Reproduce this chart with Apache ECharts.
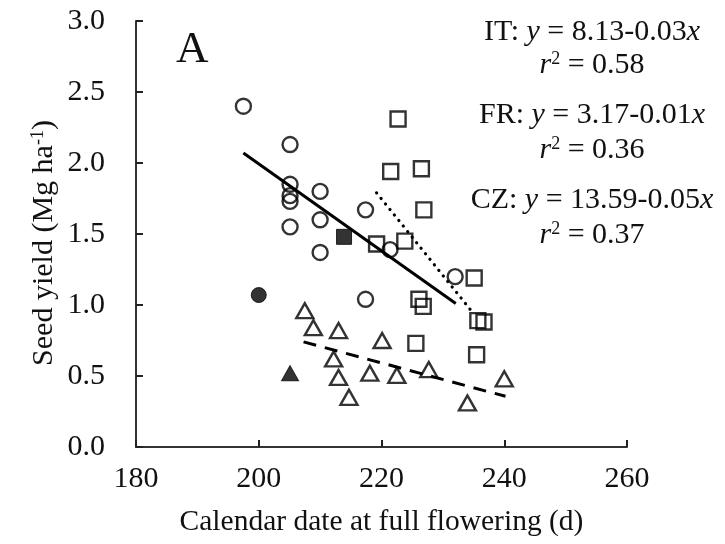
<!DOCTYPE html>
<html>
<head>
<meta charset="utf-8">
<script src="https://cdn.jsdelivr.net/npm/echarts@6/dist/echarts.min.js"></script>
<style>
html,body{margin:0;padding:0;background:#fff;}
#chart{width:725px;height:544px;}
</style>
</head>
<body>
<div id="chart"></div>
<script>
// ---- data ----
var xTicks = [180, 200, 220, 240, 260];
var yTicks = [0.0, 0.5, 1.0, 1.5, 2.0, 2.5, 3.0];

var itOpen = [[197.5,2.40],[205.1,2.13],[205.1,1.85],[205.1,1.77],[205.1,1.73],[205.1,1.55],
              [210.0,1.80],[210.0,1.60],[210.0,1.37],[217.4,1.67],[221.4,1.39],[232.0,1.20],[217.4,1.04]];
var itFilled = [[200.0,1.07]];
var frOpen = [[222.7,2.31],[221.5,1.94],[226.5,1.96],[226.9,1.67],[219.2,1.43],[223.8,1.45],
              [235.1,1.19],[226.1,1.04],[226.8,0.99],[235.7,0.89],[236.7,0.88],[225.6,0.73],[235.5,0.65]];
var frFilled = [[213.9,1.48]];
var czOpen = [[207.5,0.96],[208.9,0.84],[213.0,0.82],[220.1,0.75],[212.2,0.62],[213.0,0.49],
              [218.1,0.52],[222.5,0.505],[227.7,0.545],[214.7,0.35],[234.0,0.31],[240.0,0.48]];
var czFilled = [[205.1,0.52]];

var itFit = [[197.5,2.07],[232.1,1.01]];
var frFit = [[219.2,1.79],[234.8,0.95]];
var czFit = [[207.3,0.74],[240.2,0.357]];

var eqLines = [
  '{n|IT: }{i|y}{n| = 8.13-0.03}{i|x}',
  '{i|r}{s|2}{n| = 0.58}',
  '{n|FR: }{i|y}{n| = 3.17-0.01}{i|x}',
  '{i|r}{s|2}{n| = 0.36}',
  '{n|CZ: }{i|y}{n| = 13.59-0.05}{i|x}',
  '{i|r}{s|2}{n| = 0.37}'
];
var eqY = [32, 65, 115, 150, 200, 235];
var yTitle = '{n|Seed yield (Mg ha}{s|-1}{n|)}';
var xTitle = 'Calendar date at full flowering (d)';

// ---- chart ----
var FONT = 'Liberation Serif';
var TXT = '#111';
var FS = 30;
var chart = echarts.init(document.getElementById('chart'), null, {renderer: 'canvas'});

var richSty = {
  n: {fontFamily: FONT, fontSize: FS, color: TXT},
  i: {fontFamily: FONT, fontSize: FS, fontStyle: 'italic', color: TXT},
  s: {fontFamily: FONT, fontSize: 18, color: TXT, verticalAlign: 'top', padding: [0,0,11,0]}
};

function scat(data, symbol, size, filled) {
  return {
    type: 'scatter', data: data, symbol: symbol, symbolSize: size, z: 3,
    itemStyle: filled ? {color: '#000', borderColor: '#000', borderWidth: 1}
                      : {color: 'rgba(0,0,0,0)', borderColor: '#000', borderWidth: 2.4},
    emphasis: {disabled: true}, animation: false
  };
}
function fit(data, type, width, cap) {
  return {
    type: 'line', data: data, showSymbol: false, symbol: 'none', z: 4, animation: false,
    lineStyle: {color: '#000', width: width, type: type, cap: cap}
  };
}

var graphics = [{
  type: 'text', left: 176, top: 28,
  style: {text: 'A', fontFamily: FONT, fontSize: 45, fill: TXT}
}, {
  type: 'text', x: 44, y: 243, rotation: Math.PI / 2,
  style: {text: yTitle, rich: richSty, align: 'center', verticalAlign: 'middle', fill: TXT}
}];
eqLines.forEach(function (t, k) {
  graphics.push({
    type: 'text', x: 592, y: eqY[k],
    style: {text: t, rich: richSty, align: 'center', verticalAlign: 'middle', fill: TXT}
  });
});

chart.setOption({
  backgroundColor: '#fff',
  animation: false,
  grid: {left: 136, top: 21, width: 491, height: 426, containLabel: false},
  xAxis: {
    type: 'value', min: xTicks[0], max: xTicks[xTicks.length-1], interval: 20,
    name: xTitle, nameLocation: 'middle', nameGap: 60,
    nameTextStyle: {fontFamily: FONT, fontSize: 29.5, color: TXT},
    axisLine: {show: true, lineStyle: {color: '#333', width: 2}},
    axisTick: {show: true, inside: true, length: 7, lineStyle: {color: '#222', width: 2}},
    axisLabel: {fontFamily: FONT, fontSize: FS, color: TXT, margin: 17},
    splitLine: {show: false}
  },
  yAxis: {
    type: 'value', min: yTicks[0], max: yTicks[yTicks.length-1], interval: 0.5,
    axisLine: {show: true, lineStyle: {color: '#333', width: 2}},
    axisTick: {show: true, inside: true, length: 7, lineStyle: {color: '#222', width: 2}},
    axisLabel: {fontFamily: FONT, fontSize: FS, color: TXT, margin: 31,
                formatter: function (v) { return v.toFixed(1); }},
    splitLine: {show: false}
  },
  series: [
    fit(itFit, 'solid', 3, 'butt'),
    fit(frFit, [0.1, 7], 3.2, 'round'),
    fit(czFit, [13, 9], 3, 'butt'),
    scat(itOpen, 'circle', 15, false),
    scat(itFilled, 'circle', 15, true),
    scat(frOpen, 'rect', 15, false),
    scat(frFilled, 'rect', 15, true),
    scat(czOpen, 'triangle', [17, 15], false),
    scat(czFilled, 'triangle', [17, 15], true)
  ],
  graphic: graphics
});
</script>
</body>
</html>
